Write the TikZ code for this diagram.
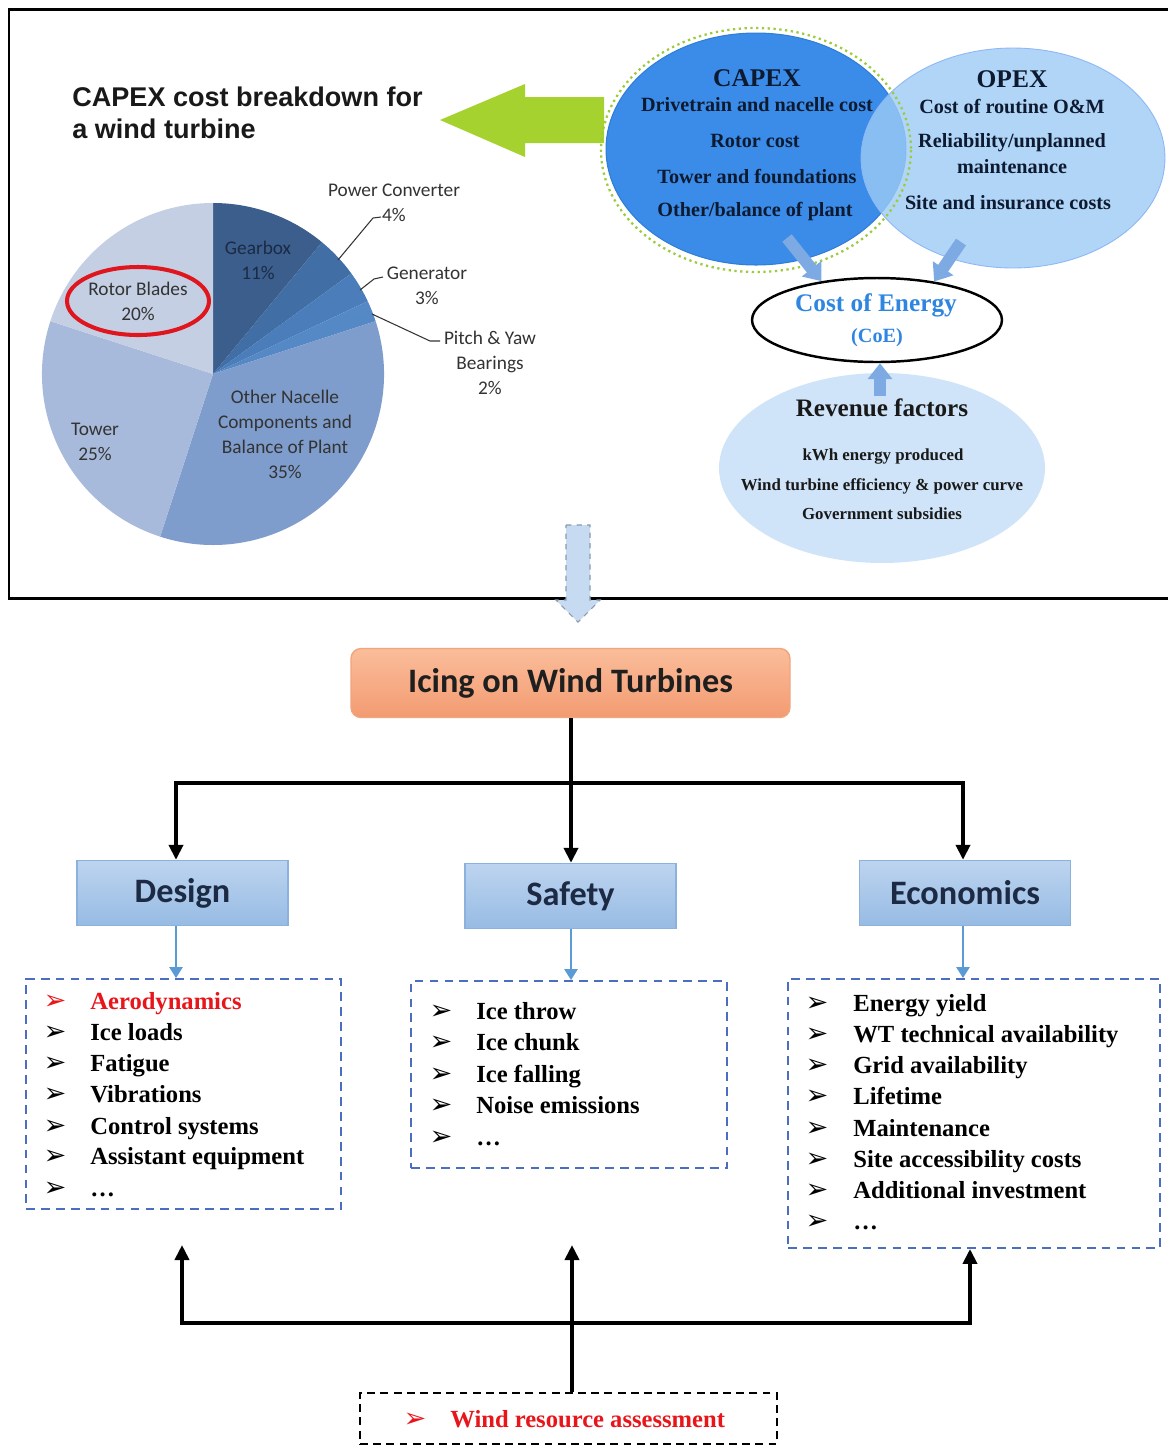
\documentclass[tikz,border=0pt]{standalone}
\usepackage{fontspec}
\setmainfont{Liberation Serif}
\newfontfamily\calibri{Carlito}
\newfontfamily\arialf{Liberation Sans}
\newfontfamily\symf{DejaVu Sans}
\usetikzlibrary{arrows.meta,shapes.geometric,calc}

\definecolor{pGear}{HTML}{3B5E8C}
\definecolor{pConv}{HTML}{416FA5}
\definecolor{pGen}{HTML}{4A7DB9}
\definecolor{pPitch}{HTML}{5589C6}
\definecolor{pOther}{HTML}{7E9DCC}
\definecolor{pTower}{HTML}{A8BADB}
\definecolor{pRotor}{HTML}{C4CFE4}
\definecolor{lblgray}{HTML}{333333}
\definecolor{lblnavy}{HTML}{1C2A44}
\definecolor{ringred}{HTML}{E0161E}
\definecolor{limegreen}{HTML}{A5D22E}
\definecolor{dotgreen}{HTML}{9CCB3C}
\definecolor{capexblue}{HTML}{3A8CE8}
\definecolor{capexedge}{HTML}{2F7ED6}
\definecolor{opexblue}{HTML}{9DCBF5}
\definecolor{revblue}{HTML}{CFE4F8}
\definecolor{coeblue}{HTML}{2F86E0}
\definecolor{blkarrow}{HTML}{7DAAE2}
\definecolor{inknavy}{HTML}{0E1A30}
\definecolor{boxtop}{HTML}{BDD4EF}
\definecolor{boxbot}{HTML}{97BBE4}
\definecolor{boxedge}{HTML}{8DB1DD}
\definecolor{icetop}{HTML}{FABD9A}
\definecolor{icebot}{HTML}{F39B72}
\definecolor{iceedge}{HTML}{F2A47C}
\definecolor{linkblue}{HTML}{5B9BD5}
\definecolor{listblue}{HTML}{4D6DBF}
\definecolor{alertred}{HTML}{E8161B}
\definecolor{dropfill}{HTML}{C6DAF1}
\definecolor{dropedge}{HTML}{8A9AB0}

\newcommand{\fs}[2]{\fontsize{#1pt}{#2pt}\selectfont}
% one list entry: name, bullet x, text x, baseline y, text, colour
\newcommand{\litem}[6]{%
  \node[bullet mark, text=#6] (#1b) at (#2,#4) {➢};
  \node[list text, text=#6] (#1) at (#3,#4) {#5};}

\begin{document}
\begin{tikzpicture}[x=0.02cm,y=-0.02cm,
  pie label/.style={font=\calibri\fs{11}{14.2}, text=lblgray, align=center, inner sep=0},
  venn text/.style={font=\bfseries\fs{11.5}{13}, text=inknavy, inner sep=0},
  venn head/.style={font=\bfseries\fs{14.5}{16}, text=inknavy, inner sep=0},
  topic box/.style={draw=boxedge, line width=0.8pt, top color=boxtop, bottom color=boxbot,
     minimum width=4.22cm, minimum height=1.3cm, inner sep=0,
     font=\calibri\bfseries\fs{19.5}{22}, text=lblnavy},
  list frame/.style={draw=listblue, line width=1.1pt, dash pattern=on 5pt off 3.5pt},
  list text/.style={anchor=base west, inner sep=0, font=\bfseries\fs{14}{17}},
  bullet mark/.style={anchor=base, inner sep=0, font=\symf\fs{15.5}{15.5}},
  conn/.style={line width=2.3pt, -{Triangle[width=0.28cm,length=0.3cm]}},
  bar/.style={line width=2.3pt, line cap=rect},
  link/.style={line width=1.5pt, draw=linkblue, -{Triangle[width=0.26cm,length=0.22cm]}},
  block/.style={line width=0.24cm, draw=blkarrow, -{Triangle[width=0.48cm,length=0.32cm]}}
]
\useasboundingbox (0,0) rectangle (1168,1448);
\fill[white] (0,0) rectangle (1168,1448);

% ---------- upper panel frame ----------
\draw[line width=1.7pt] (1175,9) -- (9,9) -- (9,598) -- (1175,598);

% ---------- title and pointer ----------
\node[anchor=base west, inner sep=0, font=\arialf\bfseries\fs{15.4}{18}, text=black!90] (title1) at (72,106) {CAPEX cost breakdown for};
\node[anchor=base west, inner sep=0, font=\arialf\bfseries\fs{15.4}{18}, text=black!90] (title2) at (72,138) {a wind turbine};
\fill[limegreen] (440,120) -- (525,84) -- (525,97) -- (604,97) -- (604,143) -- (525,143) -- (525,157) -- cycle;

% ---------- pie chart ----------
\coordinate (pc) at (213,374);
\begin{scope}[shift={(pc)}, x=0.02cm, y=0.02cm]
  \fill[pGear]  (0,0) -- (90:171)   arc[start angle=90,   end angle=50.4,  radius=171] -- cycle;
  \fill[pConv]  (0,0) -- (50.4:171) arc[start angle=50.4, end angle=36,    radius=171] -- cycle;
  \fill[pGen]   (0,0) -- (36:171)   arc[start angle=36,   end angle=25.2,  radius=171] -- cycle;
  \fill[pPitch] (0,0) -- (25.2:171) arc[start angle=25.2, end angle=18,    radius=171] -- cycle;
  \fill[pOther] (0,0) -- (18:171)   arc[start angle=18,   end angle=-108,  radius=171] -- cycle;
  \fill[pTower] (0,0) -- (-108:171) arc[start angle=-108, end angle=-198,  radius=171] -- cycle;
  \fill[pRotor] (0,0) -- (162:171)  arc[start angle=162,  end angle=90,    radius=171] -- cycle;
\end{scope}

\node[pie label, text=lblnavy] (gear) at (258,260) {Gearbox\\11\%};
\node[pie label] (rotor) at (138,301) {Rotor Blades\\20\%};
\node[pie label] (tower) at (95,442) {Tower\\25\%};
\node[pie label] (other) at (285,434) {Other Nacelle\\Components and\\Balance of Plant\\35\%};
\node[pie label] (conv) at (394,203) {Power Converter\\4\%};
\node[pie label] (gen) at (427,286) {Generator\\3\%};
\node[pie label] (pitch) at (490,363) {Pitch \& Yaw\\Bearings\\2\%};

\draw[ringred, line width=2.3pt] (rotor) ellipse [x radius=71, y radius=34];

\draw[lblgray, line width=0.6pt] (338,260) -- (373,218) -- (381,217);
\draw[lblgray, line width=0.6pt] (360,290) -- (374,279) -- (383,277);
\draw[lblgray, line width=0.6pt] (372,314) -- (430,341) -- (440,341);

% ---------- cost of energy diagram ----------
\node[ellipse, fill=revblue, minimum width=6.52cm, minimum height=3.8cm, inner sep=0] (rev) at (882,468) {};
\node[ellipse, fill=capexblue, draw=capexedge, line width=0.6pt, minimum width=6cm, minimum height=4.64cm, inner sep=0] (capex) at (756,149) {};
\node[ellipse, fill=opexblue, fill opacity=0.8, draw=opexblue!90!blue, line width=0.5pt, minimum width=6.08cm, minimum height=4.4cm, inner sep=0] (opex) at (1013,158) {};
\draw[dotgreen, line width=1.3pt, dotted] (756,150) ellipse [x radius=155, y radius=122];

\node[venn head] (capexh) at (757,78) {CAPEX};
\node[venn text] (cx1) at (757,105) {Drivetrain and nacelle cost};
\node[venn text] (cx2) at (755,141) {Rotor cost};
\node[venn text] (cx3) at (757,177) {Tower and foundations};
\node[venn text] (cx4) at (755,212) {Other/balance of plant};

\node[venn head] (opexh) at (1012,79) {OPEX};
\node[venn text] (ox1) at (1012,107) {Cost of routine O\&M};
\node[venn text] (ox2) at (1012,143) {Reliability/unplanned};
\node[venn text] (ox3) at (1012,167) {maintenance};
\node[venn text] (ox4) at (1008,203) {Site and insurance costs};

\node[ellipse, draw=black, line width=1.4pt, fill=white, minimum width=5cm, minimum height=1.68cm, inner sep=0] (coe) at (877,320) {};
\node[inner sep=0, font=\bfseries\fs{14.4}{16}, text=coeblue] (coe1) at (876,305) {Cost of Energy};
\node[inner sep=0, font=\bfseries\fs{11.5}{13}, text=coeblue] (coe2) at (877,338) {(CoE)};

\coordinate (ca) at (787,238);
\coordinate (oa) at (961,242);
\coordinate (ra) at (880,396);
\draw[block] (ca) -- (coe.145);
\draw[block] (oa) -- (coe.34);
\draw[block] (ra) -- (coe.south -| ra);

\node[inner sep=0, font=\bfseries\fs{14.3}{16}, text=black!90] (revh) at (882,408) {Revenue factors};
\node[inner sep=0, font=\bfseries\fs{9.6}{11}, text=black!90] (rv1) at (883,456) {kWh energy produced};
\node[inner sep=0, font=\bfseries\fs{9.6}{11}, text=black!90] (rv2) at (882,486) {Wind turbine efficiency \& power curve};
\node[inner sep=0, font=\bfseries\fs{9.6}{11}, text=black!90] (rv3) at (882,514) {Government subsidies};

% ---------- hand-over arrow ----------
\draw[fill=dropfill, draw=dropedge, line width=0.6pt, dashed]
  (566,525) -- (590,525) -- (590,600) -- (600,600) -- (578,622) -- (556,600) -- (566,600) -- cycle;

% ---------- icing tree ----------
\node[draw=iceedge, line width=0.8pt, rounded corners=0.2cm, top color=icetop, bottom color=icebot,
      minimum width=8.78cm, minimum height=1.38cm, inner sep=0,
      font=\calibri\bfseries\fs{19.5}{22}, text=black!88] (icing) at (570.5,683) {Icing on Wind Turbines};

\node[topic box] (design) at (182.5,893) {Design};
\node[topic box] (safety) at (570.5,896) {Safety};
\node[topic box] (econ) at (965,893) {Economics};

\coordinate (jl) at (176,783);
\coordinate (jm) at (571,783);
\coordinate (jr) at (963,783);
\draw[bar] (jl) -- (jr);
\draw[conn] (icing.south -| jm) -- (safety.north -| jm);
\draw[conn] (jl) -- (design.north -| jl);
\draw[conn] (jr) -- (econ.north -| jr);

% ---------- item lists ----------
\node[list frame, minimum width=6.3cm, minimum height=4.6cm, inner sep=0] (dlist) at (183.5,1094) {};
\node[list frame, minimum width=6.32cm, minimum height=3.74cm, inner sep=0] (slist) at (569,1074.5) {};
\node[list frame, minimum width=7.44cm, minimum height=5.38cm, inner sep=0] (elist) at (974,1113.5) {};

\draw[link] (design.south -| jl) -- (dlist.north -| jl);
\draw[link] (safety.south -| jm) -- (slist.north -| jm);
\draw[link] (econ.south -| jr) -- (elist.north -| jr);

\litem{d1}{55}{90}{1009}{Aerodynamics}{alertred}
\litem{d2}{55}{90}{1040}{Ice loads}{black}
\litem{d3}{55}{90}{1071}{Fatigue}{black}
\litem{d4}{55}{90}{1102}{Vibrations}{black}
\litem{d5}{55}{90}{1134}{Control systems}{black}
\litem{d6}{55}{90}{1164}{Assistant equipment}{black}
\litem{d7}{55}{90}{1196}{…}{black}

\litem{s1}{441}{476}{1019}{Ice throw}{black}
\litem{s2}{441}{476}{1050}{Ice chunk}{black}
\litem{s3}{441}{476}{1082}{Ice falling}{black}
\litem{s4}{441}{476}{1113}{Noise emissions}{black}
\litem{s5}{441}{476}{1145}{…}{black}

\litem{e1}{817}{853}{1011}{Energy yield}{black}
\litem{e2}{817}{853}{1042}{WT technical availability}{black}
\litem{e3}{817}{853}{1073}{Grid availability}{black}
\litem{e4}{817}{853}{1104}{Lifetime}{black}
\litem{e5}{817}{853}{1136}{Maintenance}{black}
\litem{e6}{817}{853}{1167}{Site accessibility costs}{black}
\litem{e7}{817}{853}{1198}{Additional investment}{black}
\litem{e8}{817}{853}{1229}{…}{black}

% ---------- wind resource feed ----------
\node[draw=black, line width=1.3pt, dash pattern=on 4.5pt off 3pt, minimum width=8.34cm, minimum height=1.02cm, inner sep=0] (wind) at (568.5,1418.5) {};
\litem{w1}{415}{450}{1427}{Wind resource assessment}{alertred}

\coordinate (bl) at (182,1323);
\coordinate (bm) at (572,1323);
\coordinate (br) at (970,1323);
\coordinate (tl) at (182,1245);
\coordinate (tm) at (572,1245);
\draw[bar] (bl) -- (br);
\draw[conn] (wind.north -| bm) -- (tm);
\draw[conn] (bl) -- (tl);
\draw[conn] (br) -- (elist.south -| br);
\end{tikzpicture}
\end{document}
